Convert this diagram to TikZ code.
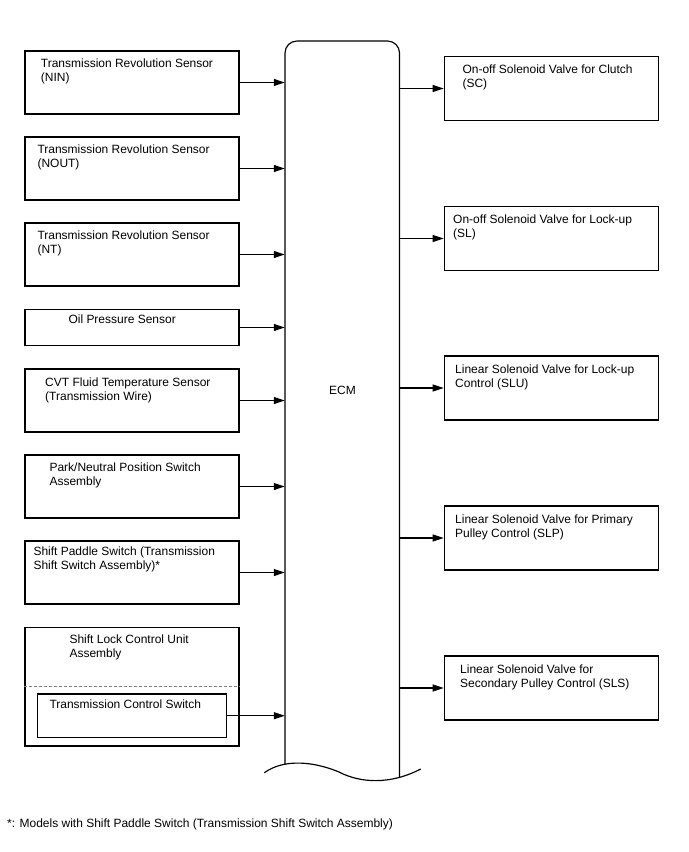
\documentclass[tikz,border=0pt]{standalone}
\usepackage{fontspec}
\setmainfont{Liberation Sans}
\usetikzlibrary{arrows.meta, positioning}

\begin{document}
\begin{tikzpicture}[
    x=0.03cm, y=-0.03cm,
    font=\fontsize{10.23}{11.95}\selectfont,
    inbox/.style={rectangle, draw, line width=1pt, minimum width=6.42cm,
                  minimum height=1.89cm, inner sep=0pt},
    outbox/.style={rectangle, draw, line width=1pt, minimum width=6.42cm,
                   minimum height=1.92cm, inner sep=0pt},
    lbl/.style={anchor=north west, align=left, inner sep=0pt},
    sig/.style={-{Triangle[length=0.33cm, width=0.21cm]}, line width=1pt},
]
  \useasboundingbox (0,0) rectangle (688,852);

  % ---- ECM ----
  \node[minimum width=3.435cm, minimum height=21.87cm, inner sep=0pt]
    (ecm) at (342.25,405.5) {};
  \draw[line width=1pt, rounded corners=0.36cm]
    (285,764.3) -- (285,41) -- (399.5,41) -- (399.5,777.4);
  \draw[line width=1pt]
    (264.3,772.7) .. controls (285,758) and (315,762) .. (339,772)
                  .. controls (360,783) and (390,785) .. (420.7,769);
  \node (ecmlbl) at (342.5,390) {ECM};

  % ---- inputs ----
  \node[inbox] (nin) at (132,82.5) {};
  \node[lbl] (nin-t) at (40.7,58.3) {Transmission Revolution Sensor\\(NIN)};
  \node[inbox] (nout) at (132,168.5) {};
  \node[lbl] (nout-t) at (37.3,144.5) {Transmission Revolution Sensor\\(NOUT)};
  \node[inbox] (nt) at (132,254.5) {};
  \node[lbl] (nt-t) at (37.3,230.5) {Transmission Revolution Sensor\\(NT)};
  \node[inbox, minimum height=1.09cm] (oil) at (132,327.5) {};
  \node[lbl] (oil-t) at (68.3,315) {Oil Pressure Sensor};
  \node[inbox] (cvt) at (132,400.5) {};
  \node[lbl] (cvt-t) at (45,377.3) {CVT Fluid Temperature Sensor\\(Transmission Wire)};
  \node[inbox] (pnp) at (132,486.5) {};
  \node[lbl] (pnp-t) at (49.3,462.7) {Park/Neutral Position Switch\\Assembly};
  \node[inbox] (paddle) at (132,572.5) {};
  \node[lbl] (paddle-t) at (33.3,547) {Shift Paddle Switch (Transmission\\Shift Switch Assembly)*};

  % ---- shift lock unit ----
  \node[inbox, minimum height=3.56cm] (slcu) at (132,686.6) {};
  \node[lbl] (slcu-t) at (69.3,635) {Shift Lock Control Unit\\Assembly};
  \draw[gray, line width=0.8pt, dash pattern=on 0.09cm off 0.06cm]
    (slcu.west) -- (slcu.east);
  \node[inbox, minimum width=5.68cm, minimum height=1.30cm] (tcs) at (132,715.7) {};
  \node[lbl] (tcs-t) at (49.3,699.3) {Transmission Control Switch};

  % ---- outputs ----
  \node[outbox] (sc) at (551.3,88.5) {};
  \node[lbl] (sc-t) at (462.3,65) {On-off Solenoid Valve for Clutch\\(SC)};
  \node[outbox] (sl) at (551.3,238.5) {};
  \node[lbl] (sl-t) at (453,215) {On-off Solenoid Valve for Lock-up\\(SL)};
  \node[outbox] (slu) at (551.3,388) {};
  \node[lbl] (slu-t) at (455,365) {Linear Solenoid Valve for Lock-up\\Control (SLU)};
  \node[outbox] (slp) at (551.3,538) {};
  \node[lbl] (slp-t) at (455,515) {Linear Solenoid Valve for Primary\\Pulley Control (SLP)};
  \node[outbox] (sls) at (551.3,688) {};
  \node[lbl] (sls-t) at (460,665) {Linear Solenoid Valve for\\Secondary Pulley Control (SLS)};

  % ---- signal lines ----
  \draw[sig] (nin.east) -- (nin.east -| ecm.west);
  \draw[sig] (nout.east) -- (nout.east -| ecm.west);
  \draw[sig] (nt.east) -- (nt.east -| ecm.west);
  \draw[sig] (oil.east) -- (oil.east -| ecm.west);
  \draw[sig] (cvt.east) -- (cvt.east -| ecm.west);
  \draw[sig] (pnp.east) -- (pnp.east -| ecm.west);
  \draw[sig] (paddle.east) -- (paddle.east -| ecm.west);
  \draw[sig] (tcs.east) -- (tcs.east -| ecm.west);

  \draw[sig] (sc.west -| ecm.east) -- (sc.west);
  \draw[sig] (sl.west -| ecm.east) -- (sl.west);
  \draw[sig] (slu.west -| ecm.east) -- (slu.west);
  \draw[sig] (slp.west -| ecm.east) -- (slp.west);
  \draw[sig] (sls.west -| ecm.east) -- (sls.west);

  % ---- footnote ----
  \node[lbl] (note) at (7,818.3)
    {*: Models with Shift Paddle Switch (Transmission Shift Switch Assembly)};
\end{tikzpicture}
\end{document}
